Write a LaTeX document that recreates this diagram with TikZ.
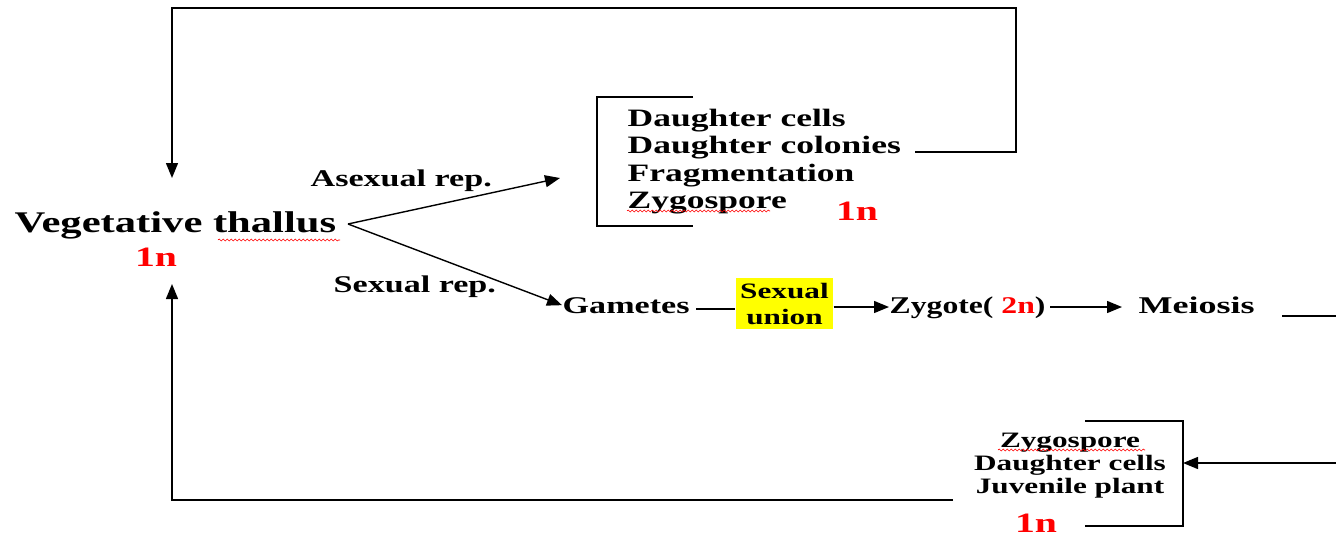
\documentclass[tikz,border=0pt]{standalone}
\usepackage{graphicx}
\usepackage{fontspec}
\newfontfamily\tms{Liberation Serif}
\usetikzlibrary{arrows.meta,decorations.pathmorphing}
\definecolor{hl}{RGB}{255,255,0}
% broad, widely set lettering
\newcommand\wide[1]{\scalebox{1.42}[1]{#1}}
\begin{document}
\begin{tikzpicture}[x=1pt,y=-1pt,
  line width=1.4pt,
  tip/.style={-{Triangle[length=15pt,width=12pt]}},
  big/.style={inner sep=0pt,font=\tms\bfseries\fontsize{30}{34}\selectfont},
  mid/.style={inner sep=0pt,font=\tms\bfseries\fontsize{25}{27}\selectfont},
  sml/.style={inner sep=0pt,font=\tms\bfseries\fontsize{24}{26}\selectfont},
  low/.style={inner sep=0pt,font=\tms\bfseries\fontsize{22}{24}\selectfont},
  ploid/.style={inner sep=0pt,text=red,font=\tms\bfseries\fontsize{28}{30}\selectfont},
  spell/.style={red,line width=0.6pt,decorate,decoration={snake,amplitude=1pt,segment length=4pt}}
]
\useasboundingbox (0,0) rectangle (1336,536);

% central thallus
\node[big,anchor=base west] (veg) at (14,232) {\wide{Vegetative thallus}};
\node[ploid,anchor=base] (n1) at (156,266) {\wide{1n}};
\draw[spell] (218,240) -- (340,240);
\coordinate (vout) at (348,224);
\coordinate (vtop) at (172,178);
\coordinate (vbot) at (172,284);

% asexual branch
\node[sml,anchor=base west] (alab) at (310,186) {\wide{Asexual rep.}};
\coordinate (aend) at (560,178);
\draw[tip] (vout) -- (aend);
\draw (693,97) -- (597,97) -- (597,226) -- (693,226);
\node[mid,anchor=base west] (a1) at (627,126) {\wide{Daughter cells}};
\node[mid,anchor=base west] (a2) at (627,153) {\wide{Daughter colonies}};
\node[mid,anchor=base west] (a3) at (627,181) {\wide{Fragmentation}};
\node[mid,anchor=base west] (a4) at (627,208) {\wide{Zygospore}};
\draw[spell] (627,211) -- (770,211);
\node[ploid,anchor=base] (n2) at (857,220) {\wide{1n}};
\coordinate (aret) at (915,152);
\draw[tip] (aret) -- (1016,152) -- (1016,8) -- (172,8) -- (vtop);

% sexual branch
\node[sml,anchor=base west] (slab) at (333,292) {\wide{Sexual rep.}};
\node[sml,anchor=base west] (gam) at (562,313) {\wide{Gametes}};
\draw[tip] (vout) -- (gam.west);
\node[fill=hl,minimum width=97pt,minimum height=51pt,inner sep=0pt,align=center,
      font=\tms\bfseries\fontsize{22}{26}\selectfont] (union) at (784.5,303.5) {\wide{Sexual}\\\wide{union}};
\node[sml,anchor=base west] (zyg) at (889,313) {\scalebox{1.32}[1]{Zygote( \textcolor{red}{2n})}};
\node[sml,anchor=base west] (mei) at (1138,313) {\scalebox{1.5}[1]{Meiosis}};
\draw (gam.east |- 0,309) ++(6,0) coordinate (g1) (g1) -- (union.west |- g1);
\draw[tip] (union.east |- 0,307) -- (zyg.west |- 0,307);
\draw[tip] (zyg.east |- 0,307) ++(4,0) coordinate (z1) (z1) -- (1122,307);
\coordinate (mout) at (1282,316);
\coordinate (medge) at (1336,316);
\draw (mout) -- (medge);

% products of meiosis
\draw (1085,421) -- (1183,421) -- (1183,526) -- (1085,526);
\node[low,anchor=base] (b1) at (1070,447) {\wide{Zygospore}};
\draw[spell] (998,450) -- (1145,450);
\node[low,anchor=base] (b2) at (1070,470) {\wide{Daughter cells}};
\node[low,anchor=base] (b3) at (1070,493) {\wide{Juvenile plant}};
\node[ploid,anchor=base] (n3) at (1036,532) {\wide{1n}};
\coordinate (redge) at (1336,463);
\coordinate (bin) at (1183,463);
\draw[tip] (redge) -- (bin);
\coordinate (bret) at (953,500);
\draw[tip] (bret) -- (172,500) -- (vbot);
\end{tikzpicture}
\end{document}
